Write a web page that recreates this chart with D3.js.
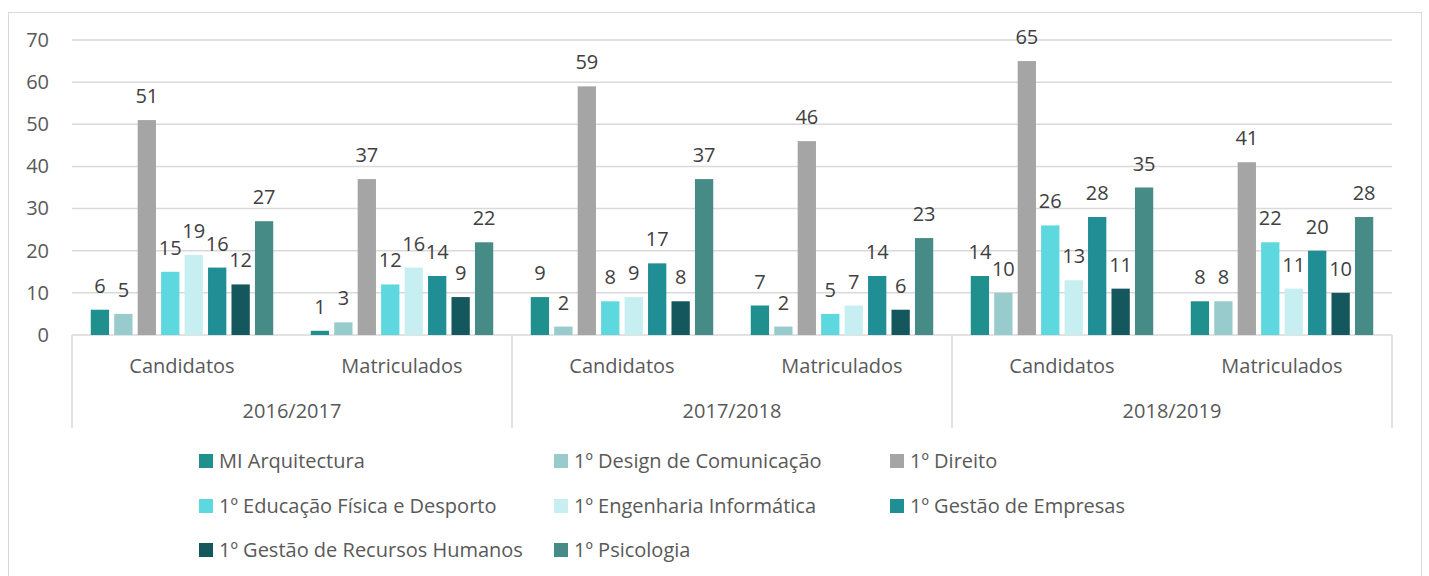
<!DOCTYPE html>
<html>
<head>
<meta charset="utf-8">
<script src="https://cdn.jsdelivr.net/npm/d3@7"></script>
<style>
  body { margin: 0; background: #fff; }
  text { font-family: "Open Sans", sans-serif; }
</style>
</head>
<body>
<div id="chart"></div>
<script>
// data
const years = ["2016/2017", "2017/2018", "2018/2019"];
const stages = ["Candidatos", "Matriculados"];
const courses = [
  "MI Arquitectura",
  "1º Design de Comunicação",
  "1º Direito",
  "1º Educação Física e Desporto",
  "1º Engenharia Informática",
  "1º Gestão de Empresas",
  "1º Gestão de Recursos Humanos",
  "1º Psicologia"
];
const colors = ["#20908f", "#98cbcb", "#a5a5a5", "#5dd8df", "#c7eff1", "#1f8f95", "#14575c", "#478b87"];

// one array per year/stage, in course order
const cand2016 = [6, 5, 51, 15, 19, 16, 12, 27];
const matr2016 = [1, 3, 37, 12, 16, 14, 9, 22];
const cand2017 = [9, 2, 59, 8, 9, 17, 8, 37];
const matr2017 = [7, 2, 46, 5, 7, 14, 6, 23];
const cand2018 = [14, 10, 65, 26, 13, 28, 11, 35];
const matr2018 = [8, 8, 41, 22, 11, 20, 10, 28];
const yTicks = [0, 10, 20, 30, 40, 50, 60, 70];

const groups = [
  { year: years[0], stage: stages[0], values: cand2016 },
  { year: years[0], stage: stages[1], values: matr2016 },
  { year: years[1], stage: stages[0], values: cand2017 },
  { year: years[1], stage: stages[1], values: matr2017 },
  { year: years[2], stage: stages[0], values: cand2018 },
  { year: years[2], stage: stages[1], values: matr2018 }
];

const W = 1429, H = 576;
const plot = { left: 72, right: 1392, top: 40, bottom: 335 };

const svg = d3.select("#chart").append("svg")
  .attr("width", W)
  .attr("height", H);

// outer frame
svg.append("rect")
  .attr("x", 8.5).attr("y", 12.5)
  .attr("width", 1413).attr("height", 600)
  .attr("fill", "none")
  .attr("stroke", "#d9d9d9")
  .attr("stroke-width", 1);

const y = d3.scaleLinear().domain([0, 70]).range([plot.bottom, plot.top]);

const x0 = d3.scaleBand()
  .domain(d3.range(groups.length))
  .range([plot.left, plot.right])
  .padding(0);

const x1 = d3.scaleBand()
  .domain(d3.range(courses.length))
  .range([0, x0.bandwidth()])
  .paddingInner(0.22)
  .paddingOuter(0.8);

// gridlines
svg.append("g")
  .selectAll("line")
  .data(yTicks)
  .join("line")
  .attr("x1", plot.left).attr("x2", plot.right)
  .attr("y1", d => y(d)).attr("y2", d => y(d))
  .attr("stroke", "#d9d9d9")
  .attr("stroke-width", 1.5);

// y axis labels
const yAxis = svg.append("g")
  .attr("transform", `translate(${plot.left},0)`)
  .call(d3.axisLeft(y).tickValues(yTicks).tickSize(0).tickPadding(23));
yAxis.select(".domain").remove();
yAxis.selectAll("text")
  .attr("font-size", 20)
  .attr("fill", "#595959")
  .style("font-family", "'Open Sans', sans-serif");

// bars
const gGroups = svg.append("g")
  .selectAll("g")
  .data(groups)
  .join("g")
  .attr("transform", (d, i) => `translate(${x0(i)},0)`);

gGroups.selectAll("rect")
  .data(d => d.values)
  .join("rect")
  .attr("x", (d, i) => x1(i))
  .attr("width", x1.bandwidth())
  .attr("y", d => y(d))
  .attr("height", d => y(0) - y(d))
  .attr("fill", (d, i) => colors[i]);

gGroups.selectAll("text")
  .data(d => d.values)
  .join("text")
  .attr("x", (d, i) => x1(i) + x1.bandwidth() / 2)
  .attr("y", d => y(d) - 17)
  .attr("text-anchor", "middle")
  .attr("font-size", 20)
  .attr("fill", "#404040")
  .text(d => d);

// category axis: separators between years
const sepX = [0, 2, 4].map(i => x0(i)).concat([plot.right]);
svg.append("g")
  .selectAll("line")
  .data(sepX)
  .join("line")
  .attr("x1", d => d).attr("x2", d => d)
  .attr("y1", plot.bottom).attr("y2", 428)
  .attr("stroke", "#d9d9d9")
  .attr("stroke-width", 1.5);

svg.append("g")
  .selectAll("text")
  .data(groups)
  .join("text")
  .attr("x", (d, i) => x0(i) + x0.bandwidth() / 2)
  .attr("y", 373)
  .attr("text-anchor", "middle")
  .attr("font-size", 20)
  .attr("fill", "#595959")
  .text(d => d.stage);

svg.append("g")
  .selectAll("text")
  .data(years)
  .join("text")
  .attr("x", (d, i) => x0(i * 2 + 1))
  .attr("y", 418)
  .attr("text-anchor", "middle")
  .attr("font-size", 20)
  .attr("fill", "#595959")
  .text(d => d);

// legend (3 columns, row-major like Excel)
const legendCols = [199, 554, 890];
const legendRows = [461, 506, 550];
const legend = svg.append("g")
  .selectAll("g")
  .data(courses)
  .join("g")
  .attr("transform", (d, i) => `translate(${legendCols[i % 3]},${legendRows[Math.floor(i / 3)]})`);

legend.append("rect")
  .attr("x", 0).attr("y", -7)
  .attr("width", 14).attr("height", 14)
  .attr("fill", (d, i) => colors[i]);

legend.append("text")
  .attr("x", 20)
  .attr("dy", "0.35em")
  .attr("font-size", 20)
  .attr("fill", "#595959")
  .text(d => d);
</script>
</body>
</html>
